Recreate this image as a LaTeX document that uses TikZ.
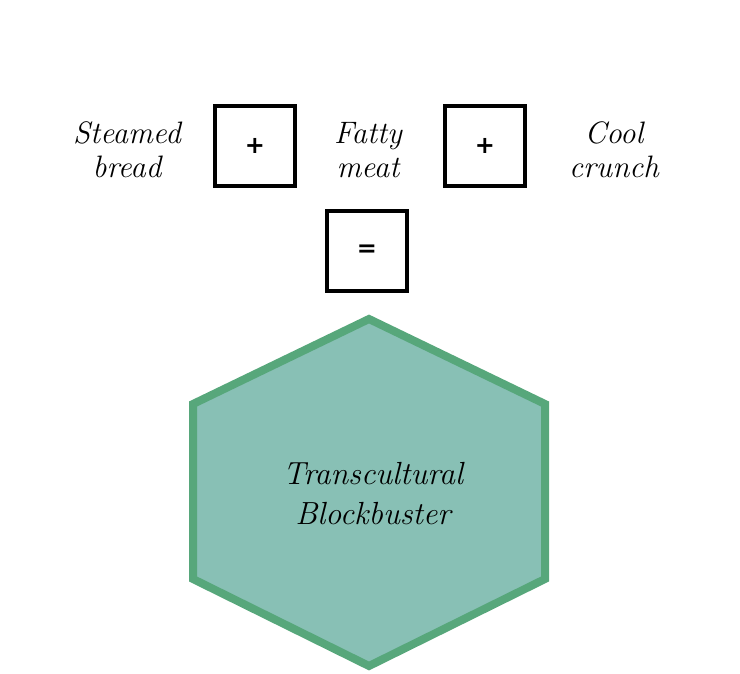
\documentclass[tikz,border=0pt]{standalone}
\usepackage{fontspec}
\newfontfamily\opfont{DejaVu Sans}
\definecolor{hexfill}{HTML}{88C0B5}
\definecolor{hexline}{HTML}{57A77B}
\tikzset{
  ingredient/.style={align=center, font=\fontsize{31}{34}\selectfont\itshape},
  opbox/.style={draw, line width=4.5pt, minimum size=80pt, inner sep=0pt,
    font=\opfont\bfseries\fontsize{24}{24}\selectfont},
}
\begin{document}
\begin{tikzpicture}[x=1pt, y=-1pt]
  \useasboundingbox (0,0) rectangle (740,674);
  % Define nodes
  \node[ingredient] (bread) at (127,150) {Steamed\\bread};
  \node[opbox] (plus1) at (255,146) {+};
  \node[ingredient] (meat) at (368,150) {Fatty\\meat};
  \node[opbox] (plus2) at (485,146) {+};
  \node[ingredient] (crunch) at (614,150) {Cool\\crunch};
  \node[opbox] (equals) at (367,251) {=};

  % Draw hexagon
  \draw[hexline, fill=hexfill, line width=8pt]
    (369,319) -- (545,404) -- (545,579) -- (369,666) -- (193,579) -- (193,404) -- cycle;
  \node[align=center, font=\fontsize{32}{40}\selectfont\itshape] (hit) at (373,494)
    {Transcultural\\Blockbuster};
\end{tikzpicture}
\end{document}
